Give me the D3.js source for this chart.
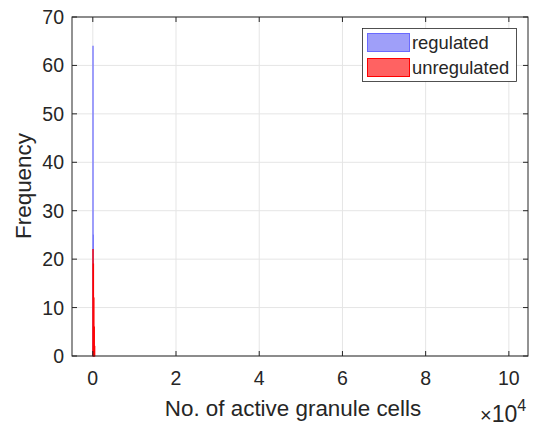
<!DOCTYPE html>
<html>
<head>
<script src="https://d3js.org/d3.v7.min.js"></script>
<style>
  body { margin: 0; background: #fff; }
  text { font-family: "Liberation Sans", Arial, sans-serif; fill: #262626; }
</style>
</head>
<body>
<svg width="535" height="428"></svg>
<script>
// histogram bins (no. of active granule cells), width 100
const binStart = 0, binWidth = 100;
const regulated = [64, 25, 4];
const unregulated = [22, 19, 12, 6, 2];
const xTicks = [0, 20000, 40000, 60000, 80000, 100000];
const xTickLabels = ["0", "2", "4", "6", "8", "10"];
const yTicks = [0, 10, 20, 30, 40, 50, 60, 70];

const svg = d3.select("svg");
const m = {l: 72, r: 528, t: 17, b: 356};

const x = d3.scaleLinear().domain([-5000, 104600]).range([m.l, m.r]);
const y = d3.scaleLinear().domain([0, 70]).range([m.b, m.t]);

// grid
svg.append("g").selectAll("line").data(xTicks).join("line")
  .attr("x1", d => x(d)).attr("x2", d => x(d)).attr("y1", m.t).attr("y2", m.b)
  .attr("stroke", "#e5e5e5");
svg.append("g").selectAll("line").data(yTicks).join("line")
  .attr("x1", m.l).attr("x2", m.r).attr("y1", d => y(d)).attr("y2", d => y(d))
  .attr("stroke", "#e5e5e5");

function bars(data, fill, stroke, sw) {
  svg.append("g").selectAll("rect").data(data).join("rect")
    .attr("x", (d, i) => x(binStart + i * binWidth))
    .attr("width", x(binWidth) - x(0))
    .attr("y", d => y(d))
    .attr("height", d => y(0) - y(d))
    .attr("fill", fill)
    .attr("stroke", stroke)
    .attr("stroke-width", sw);
}
bars(regulated, "#9f9ff9", "#6a6aff", 0.7);
bars(unregulated, "#ff6262", "#ff0000", 0.9);

// axes box
svg.append("rect").attr("x", m.l).attr("y", m.t)
  .attr("width", m.r - m.l).attr("height", m.b - m.t)
  .attr("fill", "none").attr("stroke", "#262626").attr("stroke-width", 1);

const tl = 5;
const xt = svg.append("g");
xTicks.forEach(d => {
  xt.append("line").attr("x1", x(d)).attr("x2", x(d)).attr("y1", m.b).attr("y2", m.b - tl).attr("stroke", "#262626");
  xt.append("line").attr("x1", x(d)).attr("x2", x(d)).attr("y1", m.t).attr("y2", m.t + tl).attr("stroke", "#262626");
});
xt.selectAll("text").data(xTicks).join("text")
  .attr("x", d => x(d)).attr("y", 385)
  .attr("text-anchor", "middle").attr("font-size", 19.5)
  .text((d, i) => xTickLabels[i]);

const yt = svg.append("g");
yTicks.forEach(d => {
  yt.append("line").attr("x1", m.l).attr("x2", m.l + tl).attr("y1", y(d)).attr("y2", y(d)).attr("stroke", "#262626");
  yt.append("line").attr("x1", m.r).attr("x2", m.r - tl).attr("y1", y(d)).attr("y2", y(d)).attr("stroke", "#262626");
});
yt.selectAll("text").data(yTicks).join("text")
  .attr("x", m.l - 8).attr("y", d => y(d) + 7)
  .attr("text-anchor", "end").attr("font-size", 19.5)
  .text(d => d);

// labels
svg.append("text").attr("x", 293).attr("y", 416).attr("text-anchor", "middle")
  .attr("font-size", 22.4).text("No. of active granule cells");
svg.append("text").attr("transform", "translate(31,186) rotate(-90)")
  .attr("text-anchor", "middle").attr("font-size", 22.4).text("Frequency");
const ex = svg.append("text").attr("x", 480).attr("y", 422).attr("font-size", 23);
ex.append("tspan").attr("font-size", 20).text("\u00d7");
ex.append("tspan").text("10");
ex.append("tspan").attr("dy", -11).attr("font-size", 16).text("4");

// legend
const lg = svg.append("g");
lg.append("rect").attr("x", 362.5).attr("y", 28.5).attr("width", 154).attr("height", 53)
  .attr("fill", "#fff").attr("stroke", "#262626").attr("stroke-width", 0.8);
const items = [["regulated", "#9f9ff9", "#6a6aff"], ["unregulated", "#ff6262", "#ff0000"]];
items.forEach((it, i) => {
  lg.append("rect").attr("x", 367.5).attr("y", 33.5 + i * 25).attr("width", 42).attr("height", 18)
    .attr("fill", it[1]).attr("stroke", it[2]);
  lg.append("text").attr("x", 412).attr("y", 49 + i * 25).attr("font-size", 18.4).text(it[0]);
});
</script>
</body>
</html>
